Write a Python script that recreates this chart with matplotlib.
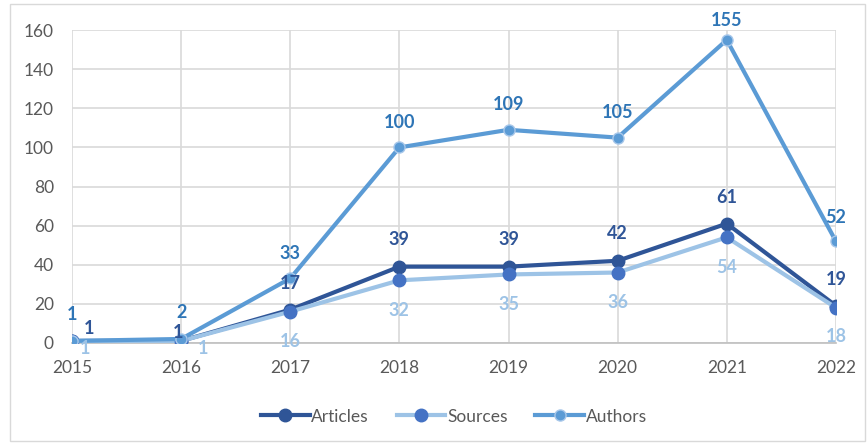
import matplotlib.pyplot as plt
import numpy as np

# data
years = [2015, 2016, 2017, 2018, 2019, 2020, 2021, 2022]
articles = [1, 1, 17, 39, 39, 42, 61, 19]
sources = [1, 1, 16, 32, 35, 36, 54, 18]
authors = [1, 2, 33, 100, 109, 105, 155, 52]

# label offsets in pixels (dx, dy)
art_off = [(17, 12), (-3, 8), (0, 26), (0, 27), (0, 27), (0, 27), (0, 26), (0, 26)]
src_off = [(13, -8), (22, -8), (0, -30), (0, -30), (0, -30), (0, -30), (0, -30), (0, -29)]
aut_off = [(0, 26), (0, 26), (0, 25), (0, 25), (0, 25), (0, 25), (0, 19), (0, 24)]

plt.rcParams['font.family'] = ['Lato', 'DejaVu Sans']

fig = plt.figure(figsize=(8.68, 4.43), dpi=100)
ax = fig.add_axes([0.083, 0.226, 0.88, 0.706])

x = np.arange(len(years))
ax.plot(x, articles, color='#2F5597', lw=3, marker='o', ms=9,
        mfc='#2F5597', mec='#2F5597', label='Articles', zorder=3)
ax.plot(x, sources, color='#9DC3E6', lw=3, marker='o', ms=9,
        mfc='#4472C4', mec='#4472C4', label='Sources', zorder=4)
ax.plot(x, authors, color='#5B9BD5', lw=3, marker='o', ms=8,
        mfc='#5B9BD5', mec='#A9C8EA', label='Authors', zorder=5)

def put_labels(vals, offs, color):
    for i, (v, o) in enumerate(zip(vals, offs)):
        ax.annotate(str(v), (x[i], v), xytext=o, textcoords='offset pixels',
                    ha='center', va='center', fontsize=13, fontweight='bold',
                    color=color, zorder=6, annotation_clip=False)

put_labels(articles, art_off, '#2F5597')
put_labels(sources, src_off, '#9DC3E6')
put_labels(authors, aut_off, '#2E75B6')

ax.set_xlim(0, len(years) - 1)
ax.set_ylim(0, 160)
ax.set_yticks(range(0, 161, 20))
ax.set_xticks(x)
ax.set_xticklabels([str(y) for y in years])
ax.tick_params(length=0, labelsize=12.5, colors='#595959')
ax.tick_params(axis='x', pad=12)
ax.tick_params(axis='y', pad=13)
ax.grid(True, color='#D9D9D9', lw=1.2)
ax.set_axisbelow(True)
for s in ['left', 'right', 'top']:
    ax.spines[s].set_visible(False)
ax.spines['bottom'].set_color('#BFBFBF')
ax.spines['bottom'].set_linewidth(1.2)
ax.spines['bottom'].set_zorder(1)

ax.legend(loc='upper center', bbox_to_anchor=(0.5, -0.16), ncol=3, frameon=False,
          fontsize=12.5, labelcolor='#595959', handlelength=2.8, handletextpad=0.1,
          columnspacing=1.6)

fig.patches.append(plt.Rectangle((0.011, 0.005), 0.985, 0.985, transform=fig.transFigure,
                                 fill=False, ec='#D9D9D9', lw=1))

fig.savefig('out.png', dpi=100)
